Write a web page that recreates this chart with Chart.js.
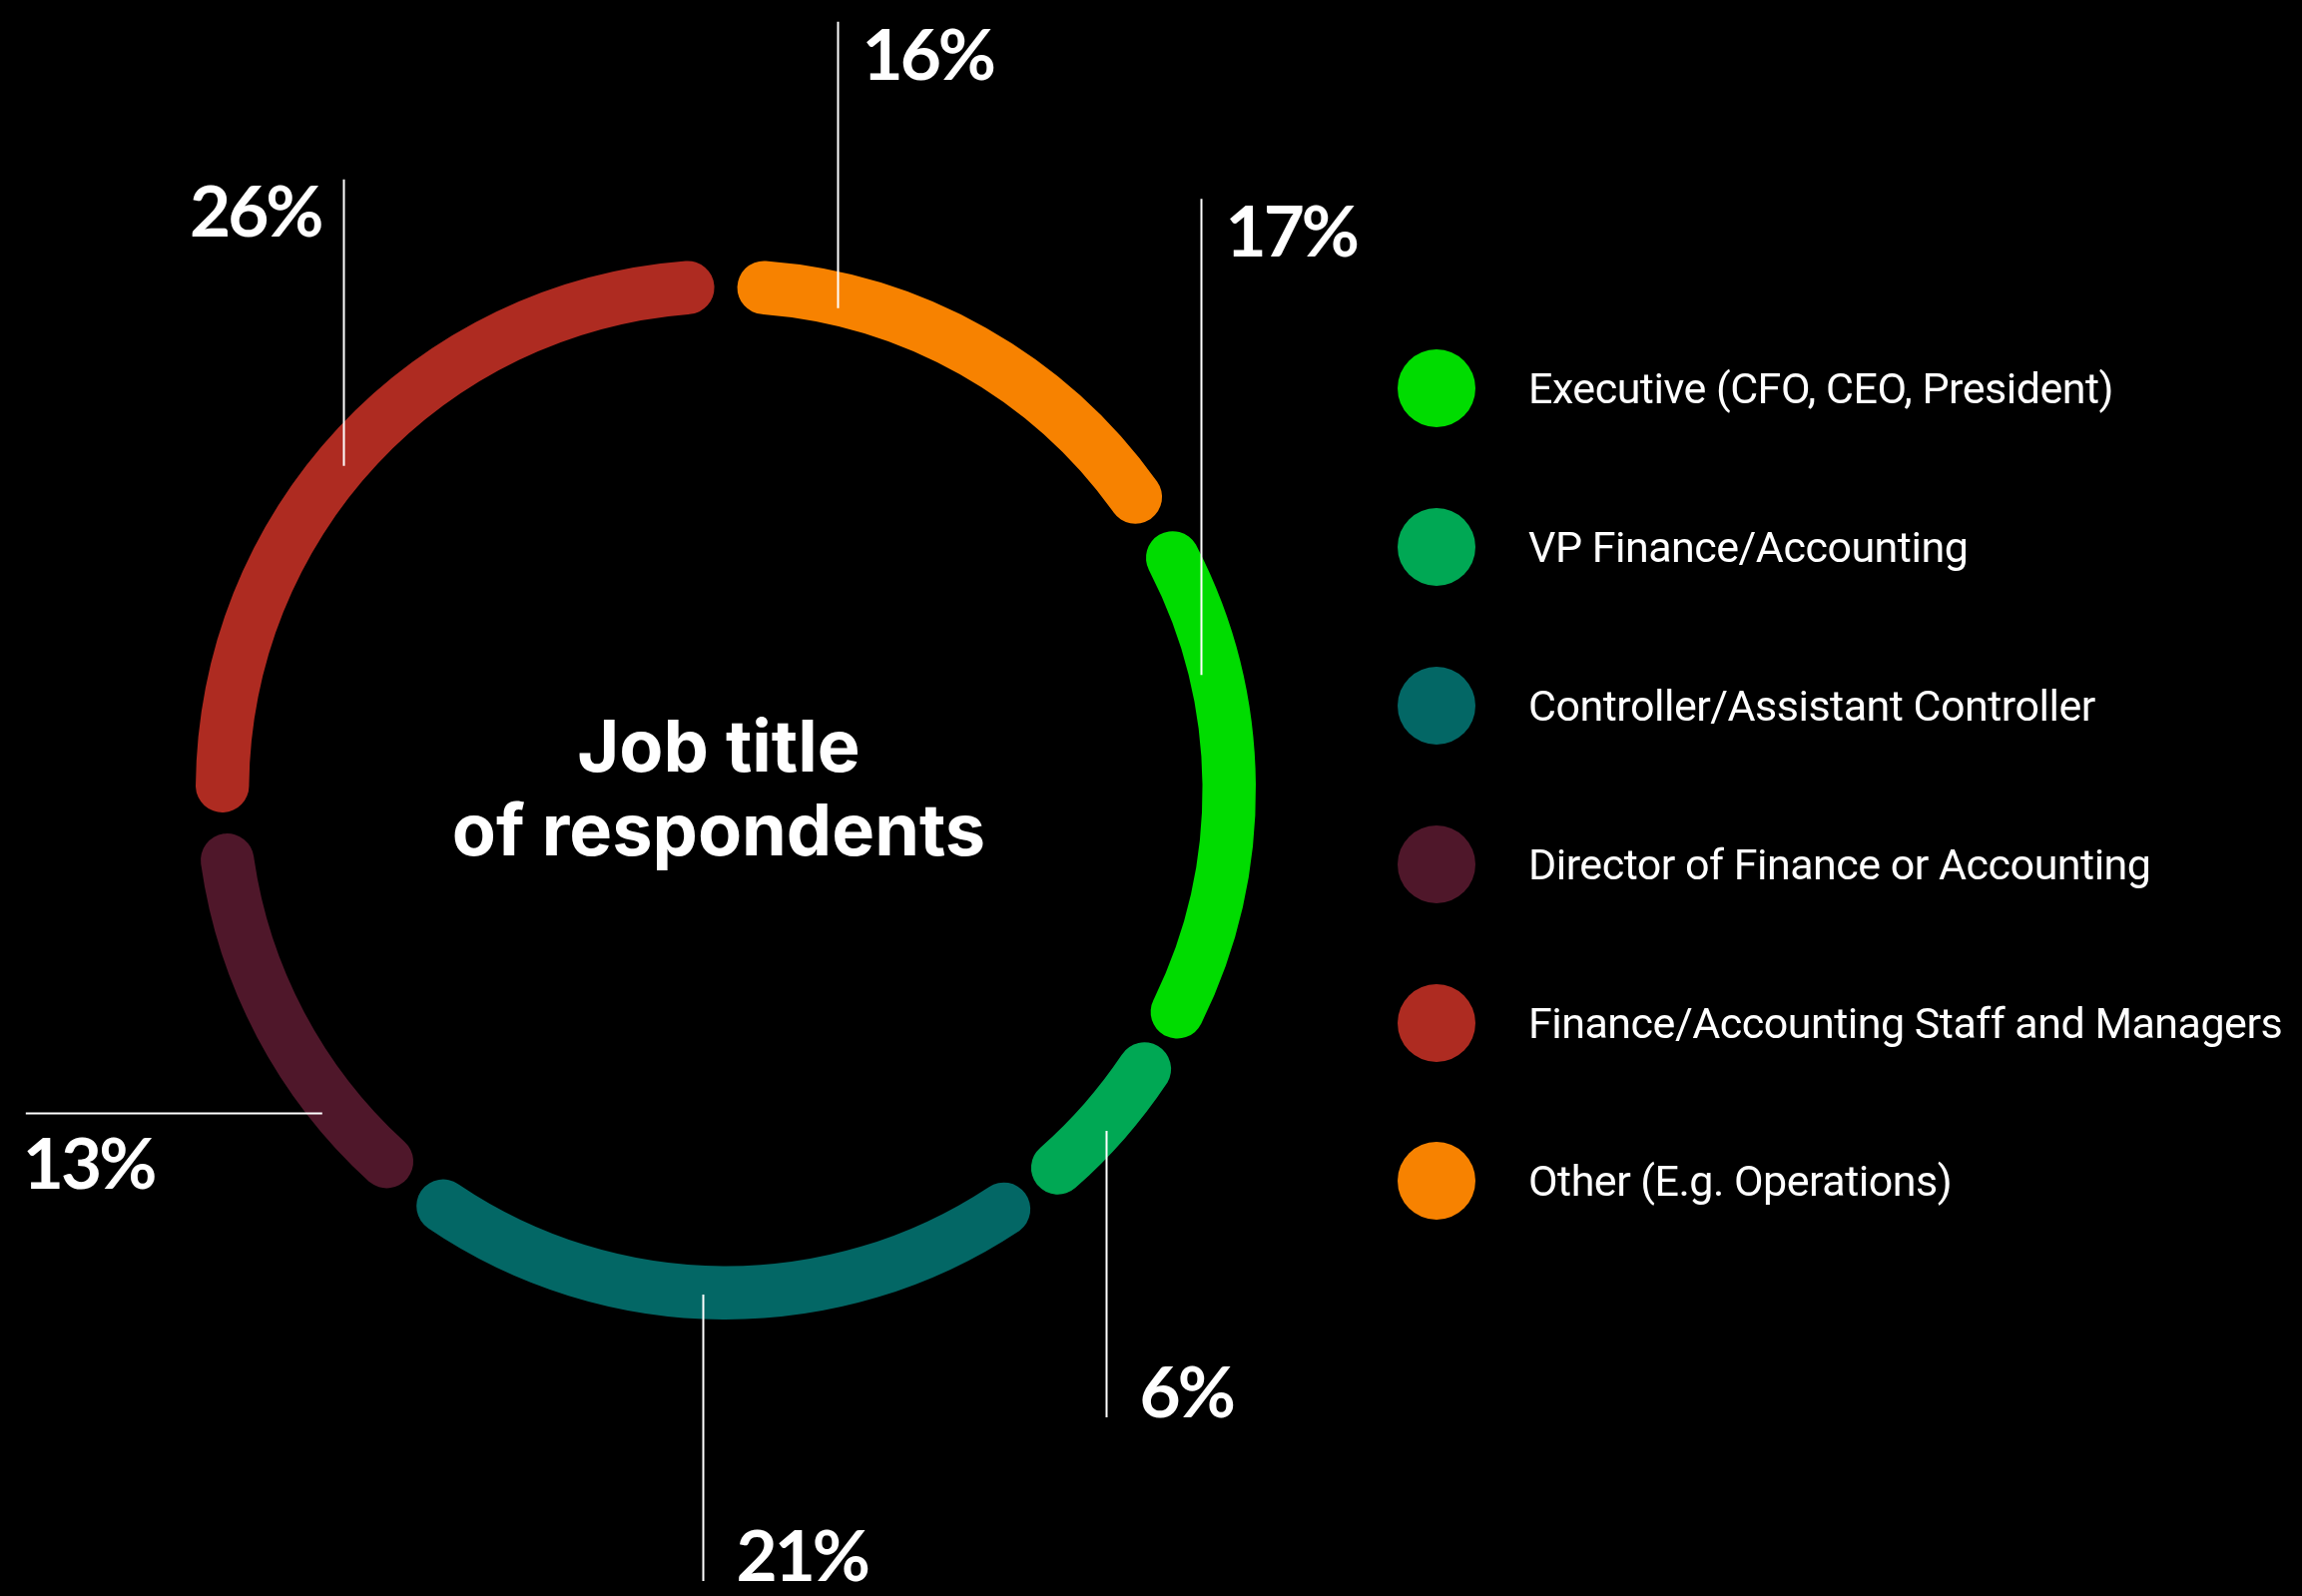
<!DOCTYPE html>
<html>
<head>
<meta charset="utf-8">
<script src="https://cdn.jsdelivr.net/npm/chart.js@4"></script>
<style>
  html, body { margin: 0; padding: 0; background: #000; }
  body { width: 2306px; height: 1599px; position: relative; overflow: hidden; }
  #chart { position: absolute; left: 0; top: 0; }
  .legend { position: absolute; left: 1400px; top: 310px; margin: 0; padding: 0; list-style: none; }
  .legend__item { height: 158.8px; display: flex; align-items: center; }
  .legend__dot { width: 78px; height: 78px; border-radius: 50%; flex: none; }
  .legend__text { margin-left: 53px; color: #fff; font-family: Roboto, sans-serif; font-size: 43px; letter-spacing: -0.5px; white-space: nowrap; }
</style>
</head>
<body>
<canvas id="chart" width="2306" height="1599"></canvas>
<ul class="legend"></ul>
<script>
// данные: должности респондентов, % от общего числа
const categories = [
  'Executive (CFO, CEO, President)',
  'VP Finance/Accounting',
  'Controller/Assistant Controller',
  'Director of Finance or Accounting',
  'Finance/Accounting Staff and Managers',
  'Other (E.g. Operations)'
];
const shares = [17, 6, 21, 13, 26, 16];
const colors = ['#00dc00', '#00a854', '#036765', '#4f172a', '#ae2b21', '#f78200'];
const centerTitle = ['Job title', 'of respondents'];

// выноски: доля дуги, положение по толщине кольца, направление и длина линии
const callouts = [
  { frac: 0.29, t: 0.22, dir: 'up', len: 477, side: 'right' },
  { frac: 0.53, t: 0.65, dir: 'down', len: 287, side: 'right' },
  { frac: 0.53, t: 0.54, dir: 'down', len: 287, side: 'right' },
  { frac: 0.27, t: 0.76, dir: 'left', len: 297, side: 'below' },
  { frac: 0.47, t: 0.46, dir: 'up', len: 287, side: 'left' },
  { frac: 0.22, t: 0.33, dir: 'up', len: 287, side: 'right' }
];

function createLegend() {
  const legend = document.querySelector('.legend');
  categories.forEach((name, i) => {
    const item = document.createElement('li');
    item.className = 'legend__item';
    item.innerHTML = `<span class="legend__dot" style="background:${colors[i]}"></span><span class="legend__text">${name}</span>`;
    legend.append(item);
  });
}

const calloutPlugin = {
  id: 'callouts',
  afterDatasetsDraw(chart) {
    const ctx = chart.ctx;
    const meta = chart.getDatasetMeta(0);
    const sp = (chart.data.datasets[0].spacing || 0) / 2;
    ctx.save();
    ctx.strokeStyle = '#fff';
    ctx.fillStyle = '#fff';
    ctx.lineWidth = 2;
    ctx.font = '700 71px Lato';
    ctx.letterSpacing = '-3px';
    ctx.textBaseline = 'alphabetic';
    meta.data.forEach((arc, i) => {
      const c = callouts[i];
      const p = arc.getProps(['x', 'y', 'startAngle', 'endAngle', 'innerRadius', 'outerRadius'], true);
      const a = p.startAngle + c.frac * (p.endAngle - p.startAngle);
      const r = p.innerRadius + sp + c.t * (p.outerRadius - p.innerRadius);
      const ax = p.x + Math.cos(a) * r;
      const ay = p.y + Math.sin(a) * r;
      let x1, y1;
      ctx.beginPath();
      if (c.dir == 'left') {
        y1 = Math.round(ay) + 0.5;
        x1 = ax - c.len;
        ctx.moveTo(ax, y1);
        ctx.lineTo(x1, y1);
      } else {
        x1 = Math.round(ax) + 0.5;
        y1 = c.dir == 'up' ? ay - c.len : ay + c.len;
        ctx.moveTo(x1, ay);
        ctx.lineTo(x1, y1);
      }
      ctx.stroke();
      const text = shares[i] + '%';
      if (c.side == 'right') {
        ctx.textAlign = 'left';
        if (c.dir == 'up') ctx.fillText(text, x1 + 24, y1 + 58);
        else ctx.fillText(text, x1 + 33, y1);
      } else if (c.side == 'left') {
        ctx.textAlign = 'right';
        ctx.fillText(text, x1 - 23, y1 + 57);
      } else {
        ctx.textAlign = 'left';
        ctx.fillText(text, x1 - 3, y1 + 75);
      }
    });
    // подпись в центре кольца
    const cx = meta.data[0].x, cy = meta.data[0].y;
    ctx.textAlign = 'center';
    ctx.letterSpacing = '0px';
    ctx.font = '700 72px Inter';
    ctx.fillText(centerTitle[0], cx - 7, cy - 18);
    ctx.fillText(centerTitle[1], cx - 7, cy + 66);
    ctx.restore();
  }
};

createLegend();

new Chart(document.getElementById('chart'), {
  type: 'doughnut',
  data: {
    labels: categories,
    datasets: [{
      data: shares,
      backgroundColor: colors,
      borderWidth: 0,
      borderRadius: 27,
      spacing: 34,
      hoverOffset: 0
    }]
  },
  options: {
    responsive: false,
    animation: false,
    devicePixelRatio: 1,
    rotation: 58.5,
    cutout: '89.6%',
    radius: 514,
    layout: { padding: { left: 196, top: 260, right: 1048, bottom: 277 } },
    plugins: {
      legend: { display: false },
      tooltip: { enabled: false }
    }
  },
  plugins: [calloutPlugin]
});
</script>
</body>
</html>
